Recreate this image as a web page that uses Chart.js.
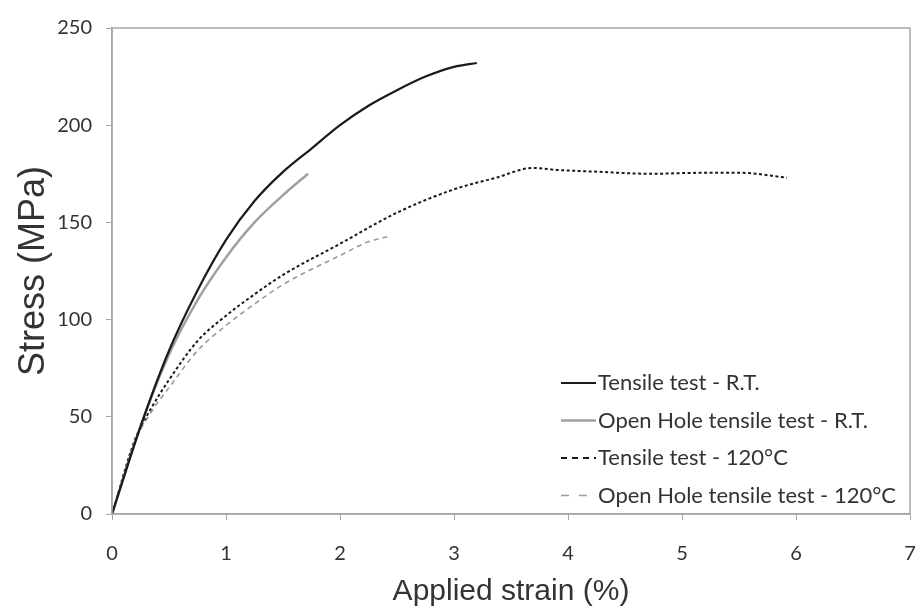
<!DOCTYPE html>
<html>
<head>
<meta charset="utf-8">
<script src="https://cdn.jsdelivr.net/npm/chart.js@4.4.1/dist/chart.umd.min.js"></script>
<style>
  html, body { margin: 0; padding: 0; background: #fff; }
  #wrap { width: 923px; height: 613px; }
</style>
</head>
<body>
<div id="wrap"><canvas id="stressChart"></canvas></div>
<script>
// strain (%) / stress (MPa)
const rtStrain = [0, 0.25, 0.5, 0.75, 1.0, 1.25, 1.5, 1.75, 2.0, 2.25, 2.5, 2.75, 3.0, 3.2];
const rtStress = [0, 45, 84, 115, 141, 161, 176, 188, 200, 210, 218, 225, 230, 232];

const ohRtStrain = [0, 0.25, 0.5, 0.75, 1.0, 1.25, 1.5, 1.72];
const ohRtStress = [0, 45, 82, 110, 132, 150, 164, 175];

const hotStrain = [0, 0.2, 0.35, 0.5, 0.75, 1.0, 1.25, 1.5, 2.0, 2.5, 3.0, 3.37, 3.69, 3.9, 4.28, 4.72, 5.16, 5.51, 5.92];
const hotStress = [0, 38, 55, 69, 89, 102, 113, 123, 139, 155, 167, 173, 178, 177, 176, 175, 175.5, 175.5, 173];

const ohHotStrain = [0, 0.2, 0.35, 0.5, 0.75, 1.0, 1.25, 1.5, 2.0, 2.25, 2.44];
const ohHotStress = [0, 37, 53, 65, 84, 97, 108, 118, 133, 140, 143];

const xTicks = [0, 1, 2, 3, 4, 5, 6, 7];
const yTicks = [0, 50, 100, 150, 200, 250];

const seriesNames = [
    'Tensile test - R.T.',
    'Open Hole tensile test - R.T.',
    'Tensile test - 120°C',
    'Open Hole tensile test - 120°C'
];

function toPoints(xs, ys) {
    return xs.map((x, i) => ({ x: x, y: ys[i] }));
}

const axisColor = '#a6a6a6';
const tickFont = { family: 'Lato, "Open Sans", sans-serif', size: 20 };

// box around the plot area + legend inside it
const framePlugin = {
    id: 'frame',
    afterDatasetsDraw(chart) {
        const { ctx, chartArea } = chart;
        ctx.save();
        ctx.strokeStyle = axisColor;
        ctx.lineWidth = 1.5;
        ctx.strokeRect(chartArea.left, chartArea.top, chartArea.right - chartArea.left, chartArea.bottom - chartArea.top);

        // legend
        const x0 = chartArea.left + 449;
        let y = chartArea.top + 355;
        ctx.font = '22px Lato, "Open Sans", sans-serif';
        ctx.textBaseline = 'middle';
        ctx.fillStyle = '#333';
        chart.data.datasets.forEach(ds => {
            ctx.beginPath();
            ctx.strokeStyle = ds.borderColor;
            ctx.lineWidth = ds.borderWidth;
            ctx.setLineDash(ds.legendDash || []);
            ctx.moveTo(x0, y);
            ctx.lineTo(x0 + 35, y);
            ctx.stroke();
            ctx.setLineDash([]);
            ctx.fillText(ds.label, x0 + 37, y);
            y += 37.5;
        });
        ctx.restore();
    }
};

const ctx = document.getElementById('stressChart').getContext('2d');
new Chart(ctx, {
    type: 'scatter',
    data: {
        datasets: [
            {
                label: seriesNames[0],
                data: toPoints(rtStrain, rtStress),
                showLine: true,
                borderColor: '#1a1a1a',
                borderWidth: 2.2,
                pointRadius: 0,
                cubicInterpolationMode: 'monotone'
            },
            {
                label: seriesNames[1],
                data: toPoints(ohRtStrain, ohRtStress),
                showLine: true,
                borderColor: '#a0a0a0',
                borderWidth: 2.5,
                pointRadius: 0,
                cubicInterpolationMode: 'monotone'
            },
            {
                label: seriesNames[2],
                data: toPoints(hotStrain, hotStress),
                showLine: true,
                borderColor: '#1a1a1a',
                borderWidth: 2,
                borderDash: [3, 2.5],
                legendDash: [6, 5],
                pointRadius: 0,
                cubicInterpolationMode: 'monotone'
            },
            {
                label: seriesNames[3],
                data: toPoints(ohHotStrain, ohHotStress),
                showLine: true,
                borderColor: '#9a9a9a',
                borderWidth: 1.6,
                borderDash: [5, 4],
                legendDash: [8, 10],
                pointRadius: 0,
                cubicInterpolationMode: 'monotone'
            }
        ]
    },
    options: {
        responsive: true,
        maintainAspectRatio: false,
        animation: false,
        layout: { padding: { top: 28, right: 13, left: 0, bottom: 0 } },
        plugins: {
            legend: { display: false },
            tooltip: { enabled: false }
        },
        scales: {
            x: {
                type: 'linear',
                min: 0,
                max: 7,
                afterBuildTicks: axis => { axis.ticks = xTicks.map(v => ({ value: v })); },
                afterFit: axis => {
                    axis.height = 99;
                    axis.paddingLeft = 0;
                    axis.paddingRight = 0;
                },
                ticks: { color: '#333', font: tickFont, padding: 22 },
                grid: { drawOnChartArea: false, tickLength: 6, color: axisColor },
                border: { color: axisColor, width: 1.5 },
                title: {
                    display: true,
                    text: 'Applied strain (%)',
                    color: '#333',
                    font: { family: '"Liberation Sans", Arial, sans-serif', size: 30 },
                    padding: { top: 0, bottom: 3 }
                }
            },
            y: {
                type: 'linear',
                min: 0,
                max: 250,
                afterBuildTicks: axis => { axis.ticks = yTicks.map(v => ({ value: v })); },
                afterFit: axis => {
                    axis.width = 112;
                    axis.paddingTop = 0;
                    axis.paddingBottom = 0;
                },
                ticks: { color: '#333', font: tickFont, padding: 14 },
                grid: { drawOnChartArea: false, tickLength: 6, color: axisColor },
                border: { color: axisColor, width: 1.5 },
                title: {
                    display: true,
                    text: 'Stress (MPa)',
                    color: '#333',
                    font: { family: '"Liberation Sans", Arial, sans-serif', size: 36 },
                    padding: { top: 12, bottom: 0 }
                }
            }
        }
    },
    plugins: [framePlugin]
});
</script>
</body>
</html>
